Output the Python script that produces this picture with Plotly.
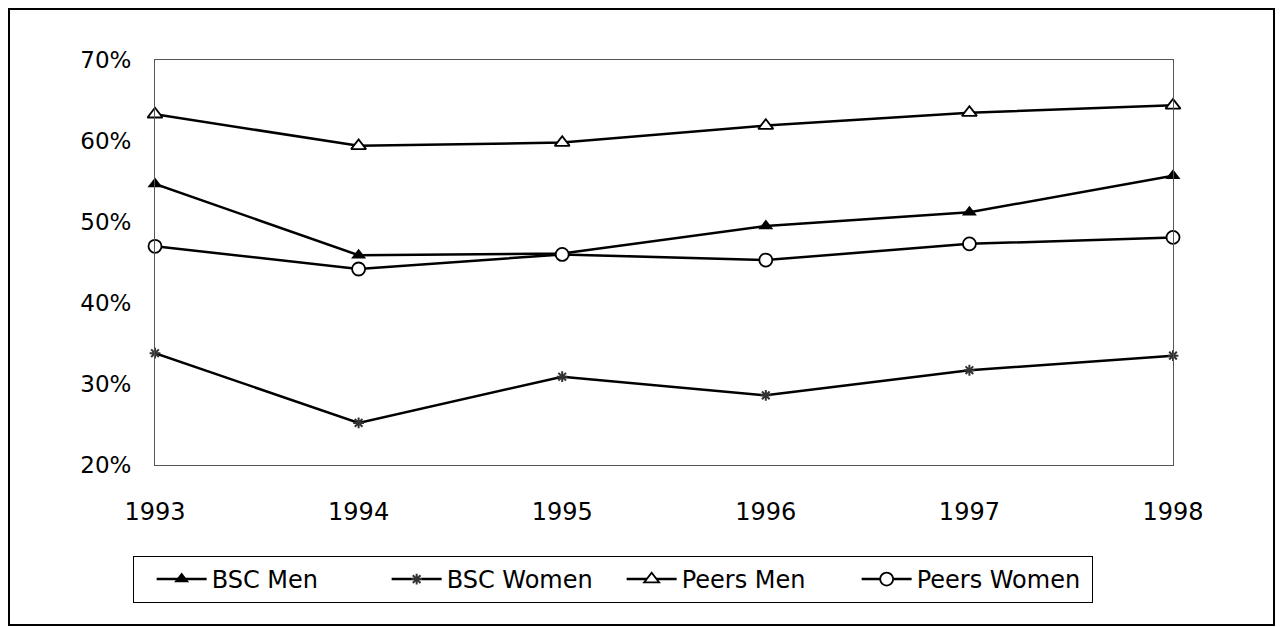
import plotly.graph_objects as go

years = [1993, 1994, 1995, 1996, 1997, 1998]
bsc_men = [0.547, 0.459, 0.461, 0.495, 0.512, 0.557]
bsc_women = [0.338, 0.252, 0.309, 0.286, 0.317, 0.335]
peers_men = [0.633, 0.594, 0.598, 0.619, 0.635, 0.644]
peers_women = [0.470, 0.442, 0.460, 0.453, 0.473, 0.481]
y_ticks = [0.2, 0.3, 0.4, 0.5, 0.6, 0.7]

# page has an 8px body margin; figure drawn from (8, 8)
OFF = 8
W, H = 1283 - OFF, 627 - OFF
L, R, T, B = 155, 1173, 60, 465  # plot area in page coordinates
pw, ph = R - L, B - T

def px_x(x):
    return (x - L) / pw

def px_y(y):
    return (B - y) / ph

FONT = "DejaVu Sans"

fig = go.Figure()
fig.add_trace(go.Scatter(
    x=years, y=bsc_men, name="BSC Men", mode="lines+markers",
    line=dict(color="black", width=2.5),
    marker=dict(symbol="triangle-up", size=13, color="black"),
    cliponaxis=False))
fig.add_trace(go.Scatter(
    x=years, y=bsc_women, name="BSC Women", mode="lines+markers",
    line=dict(color="black", width=2.5),
    marker=dict(symbol="asterisk-open", size=9, color="#333",
                line=dict(color="#333", width=2)),
    cliponaxis=False))
fig.add_trace(go.Scatter(
    x=years, y=peers_men, name="Peers Men", mode="lines+markers",
    line=dict(color="black", width=2.5),
    marker=dict(symbol="triangle-up", size=13, color="white",
                line=dict(color="black", width=1.8)),
    cliponaxis=False))
fig.add_trace(go.Scatter(
    x=years, y=peers_women, name="Peers Women", mode="lines+markers",
    line=dict(color="black", width=2.5),
    marker=dict(symbol="circle", size=13, color="white",
                line=dict(color="black", width=1.8)),
    cliponaxis=False))

fig.update_layout(
    width=W, height=H,
    margin=dict(l=L - OFF, r=OFF + W - R, t=T - OFF, b=OFF + H - B),
    paper_bgcolor="white", plot_bgcolor="white",
    font=dict(family=FONT, color="black", size=22),
    showlegend=True,
    legend=dict(
        orientation="h", x=px_x(133), y=px_y(556),
        xanchor="left", yanchor="top",
        bordercolor="black", borderwidth=1,
        font=dict(family=FONT, size=24, color="black"),
        itemwidth=50,
        entrywidth=170, entrywidthmode="pixels",
        title=dict(text="\u00a0", side="left", font=dict(size=24)),
        bgcolor="white",
    ),
    xaxis=dict(
        range=[1993, 1998], tickvals=years, ticktext=[str(y) for y in years],
        showgrid=False, zeroline=False,
        showline=True, linecolor="#555", linewidth=1, mirror=True,
        ticks="outside", ticklen=25, tickcolor="rgba(0,0,0,0)",
        tickfont=dict(family=FONT, size=24, color="black"),
    ),
    yaxis=dict(
        range=[0.2, 0.7], tickvals=y_ticks, tickformat=".0%",
        showgrid=False, zeroline=False,
        showline=True, linecolor="#555", linewidth=1, mirror=True,
        ticks="outside", ticklen=18, tickcolor="rgba(0,0,0,0)",
        tickfont=dict(family=FONT, size=23, color="black"),
    ),
    shapes=[dict(
        type="rect", xref="paper", yref="paper",
        x0=px_x(9), x1=px_x(1274), y0=px_y(625), y1=px_y(9),
        line=dict(color="black", width=2), fillcolor="rgba(0,0,0,0)",
        layer="below",
    )],
)

fig.write_html("out.html")
